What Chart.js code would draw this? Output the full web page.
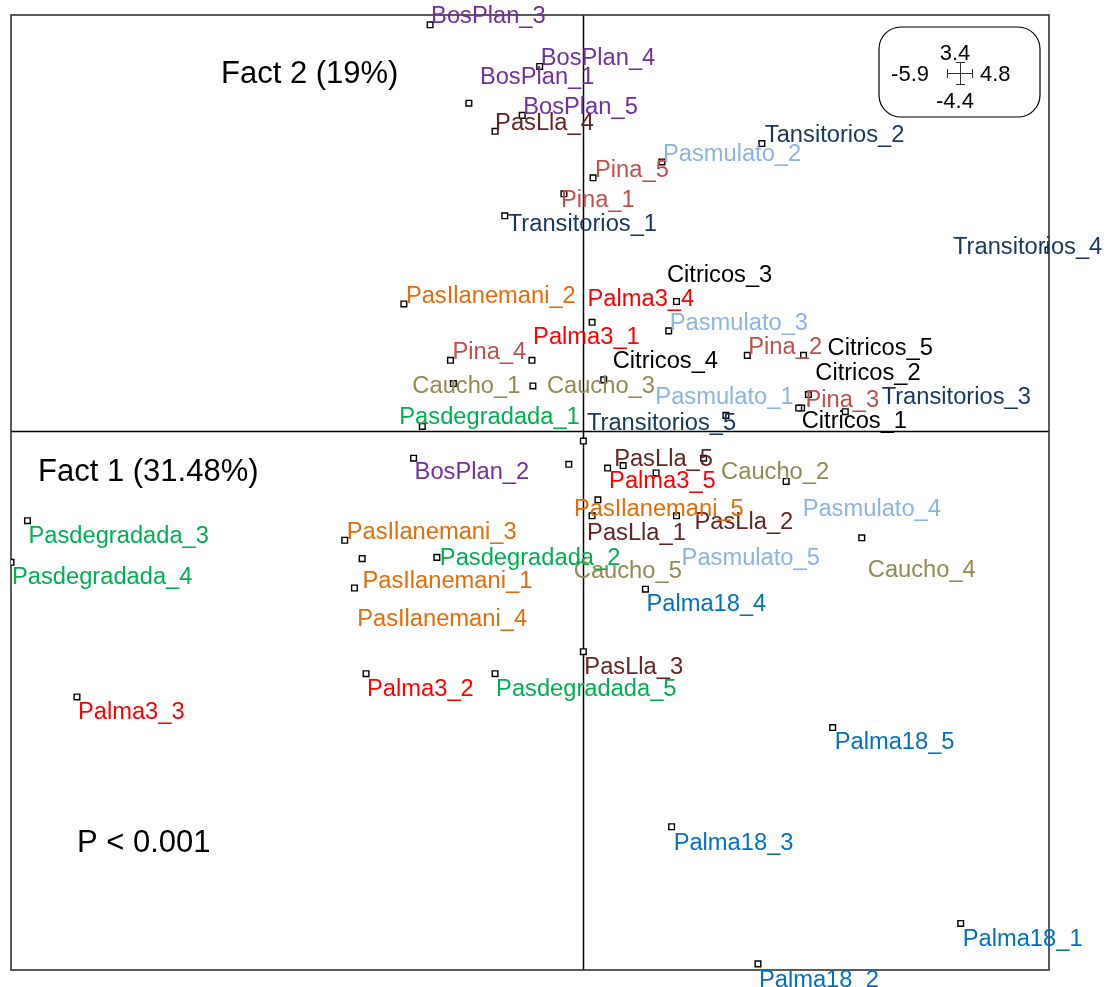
<!DOCTYPE html>
<html>
<head>
<meta charset="utf-8">
<script src="https://cdn.jsdelivr.net/npm/chart.js@4.4.1/dist/chart.umd.min.js"></script>
<style>
  html, body { margin: 0; padding: 0; background: #ffffff; }
  #wrap { width: 1115px; height: 987px; }
</style>
</head>
<body>
<div id="wrap"><canvas id="c" width="1115" height="987"></canvas></div>
<script>
// ---------------- DATA ----------------
const xExtent = [-5.9, 4.8];   // Fact 1 range shown in the box
const yExtent = [-4.4, 3.4];   // Fact 2 range shown in the box
const axisTitles = ["Fact 1 (31.48%)", "Fact 2 (19%)"];
const statText = "P < 0.001";

const sampleNames = [
  "BosPlan_1","BosPlan_2","BosPlan_3","BosPlan_4","BosPlan_5",
  "PasLla_1","PasLla_2","PasLla_3","PasLla_4","PasLla_5",
  "Pina_1","Pina_2","Pina_3","Pina_4","Pina_5",
  "Pasmulato_1","Pasmulato_2","Pasmulato_3","Pasmulato_4","Pasmulato_5",
  "Transitorios_1","Tansitorios_2","Transitorios_3","Transitorios_4","Transitorios_5",
  "Citricos_1","Citricos_2","Citricos_3","Citricos_4","Citricos_5",
  "Palma3_1","Palma3_2","Palma3_3","Palma3_4","Palma3_5",
  "PasIlanemani_1","PasIlanemani_2","PasIlanemani_3","PasIlanemani_4","PasIlanemani_5",
  "Caucho_1","Caucho_2","Caucho_3","Caucho_4","Caucho_5",
  "Pasdegradada_1","Pasdegradada_2","Pasdegradada_3","Pasdegradada_4","Pasdegradada_5",
  "Palma18_1","Palma18_2","Palma18_3","Palma18_4","Palma18_5"
];
const sampleGroup = [
  "BosPlan","BosPlan","BosPlan","BosPlan","BosPlan",
  "PasLla","PasLla","PasLla","PasLla","PasLla",
  "Pina","Pina","Pina","Pina","Pina",
  "Pasmulato","Pasmulato","Pasmulato","Pasmulato","Pasmulato",
  "Transitorios","Transitorios","Transitorios","Transitorios","Transitorios",
  "Citricos","Citricos","Citricos","Citricos","Citricos",
  "Palma3","Palma3","Palma3","Palma3","Palma3",
  "PasIlanemani","PasIlanemani","PasIlanemani","PasIlanemani","PasIlanemani",
  "Caucho","Caucho","Caucho","Caucho","Caucho",
  "Pasdegradada","Pasdegradada","Pasdegradada","Pasdegradada","Pasdegradada",
  "Palma18","Palma18","Palma18","Palma18","Palma18"
];
const factor1 = [
  -1.18, -1.75, -1.58, -0.45, -0.63,
   0.09,  0.96,  0.00, -0.91,  0.41,
  -0.20,  1.69,  2.32, -1.37,  0.10,
   0.00,  0.81,  0.88,  1.24,  0.25,
  -0.81,  1.84,  2.25,  4.79,  1.47,
   2.22,  2.70, -0.53,  0.21,  2.27,
   0.09, -2.24, -5.22,  0.96,  0.75,
  -2.36, -1.85, -2.46, -2.28,  0.15,
  -1.34,  2.09, -0.52,  2.87, -0.15,
  -1.66, -1.51, -5.73, -5.90, -0.91,
   3.89,  1.80,  0.91,  0.64,  2.57
];
const factor2 = [
   2.68, -0.22,  3.32,  2.98,  2.58,
  -0.69, -0.69, -1.80,  2.45, -0.28,
   1.94,  0.62,  0.30,  0.58,  2.07,
  -0.08,  2.20,  0.82, -0.22, -0.30,
   1.76,  2.35,  0.19,  1.48,  0.13,
   0.19,  0.16,  0.58,  0.42,  0.62,
   0.89, -1.98, -2.17,  1.06, -0.34,
  -1.28,  1.04, -0.89, -1.04, -0.56,
   0.39, -0.41,  0.37, -0.87, -0.27,
   0.04, -1.03, -0.73, -1.07, -1.98,
  -4.02, -4.35, -3.23, -1.29, -2.42
];

// ---------------- STYLE ----------------
const groupColors = {
  BosPlan: "#7030A0", PasLla: "#632523", Pina: "#C0504D", Pasmulato: "#8DB4E2",
  Transitorios: "#17375E", Citricos: "#000000", Palma3: "#FF0000",
  PasIlanemani: "#E46C0A", Caucho: "#948A54", Pasdegradada: "#00B050", Palma18: "#0070C0"
};
// label placement relative to its point, in pixels [dx to text left, dy to cap centre]
const labelOffsets = {
  BosPlan_1:[11,-27], BosPlan_2:[1,13], BosPlan_3:[1,-10], BosPlan_4:[1,-10], BosPlan_5:[1,-10],
  PasLla_1:[-5,16], PasLla_2:[18,5], PasLla_3:[1,14], PasLla_4:[0,-10], PasLla_5:[-9,-8],
  Pina_1:[-3,5], Pina_2:[1,-10], Pina_3:[-3,4], Pina_4:[2,-10], Pina_5:[2,-9],
  Pasmulato_1:[72,-45], Pasmulato_2:[1,-9], Pasmulato_3:[1,-9], Pasmulato_4:[99,50], Pasmulato_5:[74,89],
  Transitorios_1:[3,7], Tansitorios_2:[3,-10], Transitorios_3:[80,-12], Transitorios_4:[-95,-4], Transitorios_5:[-139,6],
  Citricos_1:[3,12], Citricos_2:[-30,-40], Citricos_3:[135,-87], Citricos_4:[9,-20], Citricos_5:[24,-9],
  Palma3_1:[-59,13], Palma3_2:[1,14], Palma3_3:[1,14], Palma3_4:[-89,-4], Palma3_5:[-47,7],
  PasIlanemani_1:[8,-8], PasIlanemani_2:[2,-9], PasIlanemani_3:[2,-9], PasIlanemani_4:[-5,59], PasIlanemani_5:[-24,8],
  Caucho_1:[-41,1], Caucho_2:[-65,-11], Caucho_3:[14,-1], Caucho_4:[6,31], Caucho_5:[5,105],
  Pasdegradada_1:[-23,-11], Pasdegradada_2:[3,-1], Pasdegradada_3:[1,14], Pasdegradada_4:[1,13], Pasdegradada_5:[1,14],
  Palma18_1:[2,14], Palma18_2:[1,15], Palma18_3:[2,15], Palma18_4:[1,14], Palma18_5:[2,13]
};
const FONT = '"Liberation Sans", Arial, sans-serif';
const LABEL_SIZE = 23;
const LABEL_STRETCH = 1.03;
const BIG_SIZE = 31;

const points = factor1.map((x, i) => ({ x: x, y: factor2[i] }));

const framePlugin = {
  id: 'frame',
  beforeDatasetsDraw(chart) {
    const { ctx, chartArea: a, scales: { x, y } } = chart;
    ctx.save();
    ctx.strokeStyle = '#000';
    ctx.lineWidth = 1.5;
    const x0 = Math.round(x.getPixelForValue(0)) + 0.5;
    const y0 = Math.round(y.getPixelForValue(0)) + 0.5;
    ctx.beginPath();
    ctx.moveTo(x0, a.top); ctx.lineTo(x0, a.bottom);
    ctx.moveTo(a.left, y0); ctx.lineTo(a.right, y0);
    ctx.stroke();
    ctx.strokeStyle = '#333';
    ctx.lineWidth = 1.6;
    ctx.strokeRect(a.left, a.top, a.right - a.left, a.bottom - a.top);
    ctx.restore();
  },
  afterDatasetsDraw(chart) {
    const { ctx, scales: { x, y } } = chart;
    ctx.save();
    ctx.font = LABEL_SIZE + 'px ' + FONT;
    ctx.textBaseline = 'alphabetic';
    ctx.textAlign = 'left';
    const capHalf = LABEL_SIZE * 0.358;
    sampleNames.forEach((name, i) => {
      const px = x.getPixelForValue(factor1[i]);
      const py = y.getPixelForValue(factor2[i]);
      const off = labelOffsets[name] || [2, 12];
      ctx.save();
      ctx.translate(px + off[0], py + off[1] + capHalf);
      ctx.scale(LABEL_STRETCH, 1);
      ctx.fillStyle = groupColors[sampleGroup[i]];
      ctx.fillText(name, 0, 0);
      ctx.restore();
    });
    ctx.fillStyle = '#000';
    ctx.font = BIG_SIZE + 'px ' + FONT;
    const bigHalf = BIG_SIZE * 0.358;
    ctx.fillText(axisTitles[1], 221, 72 + bigHalf);
    ctx.fillText(axisTitles[0], 38, 470 + bigHalf);
    ctx.fillText(statText, 77, 841 + bigHalf);

    // range box
    const bx = 879, by = 27, bw = 161, bh = 90, r = 22;
    ctx.strokeStyle = '#000';
    ctx.lineWidth = 1.2;
    ctx.beginPath();
    ctx.roundRect(bx, by, bw, bh, r);
    ctx.stroke();
    ctx.font = '22px ' + FONT;
    const h22 = 22 * 0.358;
    ctx.textAlign = 'center';
    ctx.fillText(String(yExtent[1]), 955, 52 + h22);
    ctx.fillText(String(yExtent[0]), 955, 100 + h22);
    ctx.textAlign = 'right';
    ctx.fillText(String(xExtent[0]), 929, 73 + h22);
    ctx.textAlign = 'left';
    ctx.fillText(String(xExtent[1]), 980, 73 + h22);
    const cx = 960, cy = 73;
    ctx.strokeStyle = '#333';
    ctx.lineWidth = 1;
    ctx.beginPath();
    ctx.moveTo(947, cy + 0.5); ctx.lineTo(973, cy + 0.5);
    ctx.moveTo(947.5, cy - 4); ctx.lineTo(947.5, cy + 5);
    ctx.moveTo(972.5, cy - 4); ctx.lineTo(972.5, cy + 5);
    ctx.moveTo(cx + 0.5, 62); ctx.lineTo(cx + 0.5, 85);
    ctx.moveTo(cx - 4, 62.5); ctx.lineTo(cx + 5, 62.5);
    ctx.moveTo(cx - 4, 84.5); ctx.lineTo(cx + 5, 84.5);
    ctx.stroke();
    ctx.restore();
  }
};

new Chart(document.getElementById('c'), {
  type: 'scatter',
  data: {
    datasets: [{
      label: 'samples',
      data: points,
      pointStyle: 'rect',
      pointRadius: 4,
      pointHoverRadius: 4,
      pointBackgroundColor: '#ffffff',
      pointBorderColor: '#000000',
      pointBorderWidth: 1.4
    }]
  },
  options: {
    responsive: false,
    animation: false,
    devicePixelRatio: 1,
    layout: { padding: { left: 11, top: 15, right: 66, bottom: 17 } },
    plugins: { legend: { display: false }, tooltip: { enabled: false } },
    scales: {
      x: { type: 'linear', min: xExtent[0], max: xExtent[1], display: false },
      y: { type: 'linear', min: yExtent[0], max: yExtent[1], display: false }
    }
  },
  plugins: [framePlugin]
});
</script>
</body>
</html>
